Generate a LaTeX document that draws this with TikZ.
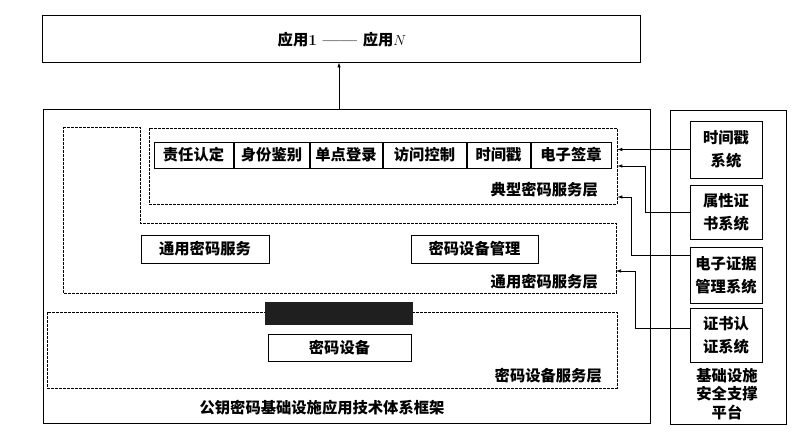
\documentclass[tikz,border=0pt]{standalone}
\usepackage{fontspec}
\newfontfamily\cjk{Noto Sans CJK SC}
\usetikzlibrary{arrows.meta}
\begin{document}
\begin{tikzpicture}[x=1pt,y=-1pt,
  font=\cjk\bfseries\fontsize{15.3}{18}\selectfont,
  box/.style={draw, line width=0.8pt, inner sep=0pt},
  solidbox/.style={draw, line width=0.9pt},
  layer/.style={draw, line width=0.6pt, dash pattern=on 3pt off 1pt},
  svc/.style={draw, line width=0.8pt, inner sep=0pt, minimum height=26pt},
  sysbox/.style={draw, line width=0.8pt, inner sep=0pt, minimum width=72pt, align=center, font=\cjk\bfseries\fontsize{15.3}{23}\selectfont},
  lbl/.style={inner sep=0pt},
  arr/.style={line width=0.7pt, -{Latex[length=5pt,width=3.5pt]}},
  link/.style={line width=0.7pt}]
\useasboundingbox (0,0) rectangle (803,444);
\fill[white] (0,0) rectangle (803,444);

% top box
\node[solidbox, minimum width=598pt, minimum height=47pt, inner sep=0pt] (apps) at (341,38.5) {};
\node[lbl] (appstxt) at (342,40) {{\cjk\bfseries 应用}\textrm{\bfseries 1 —— }{\cjk\bfseries 应用}$N$};

% main frame
\node[solidbox, minimum width=607pt, minimum height=314pt, inner sep=0pt] (main) at (346.5,266) {};
\node[lbl] (maintxt) at (322,408) {公钥密码基础设施应用技术体系框架};

% arrow up
\draw[arr] (main.north -| 339,0) -- (apps.south -| 339,0);

% general layer (notched outline)
\draw[layer] (63,127) -- (140,127) -- (140,223) -- (616,223) -- (616,293) -- (63,293) -- cycle;
\coordinate (genE) at (616,271);

% typical layer
\node[layer, minimum width=468pt, minimum height=76pt, inner sep=0pt] (typ) at (383,166) {};
\node[lbl, anchor=east] (typtxt) at (598,190) {典型密码服务层};

% service boxes
\node[svc, minimum width=79pt] (s1) at (193.5,155) {责任认定};
\node[svc, minimum width=75pt] (s2) at (271.5,155) {身份鉴别};
\node[svc, minimum width=72pt] (s3) at (346,155) {单点登录};
\node[svc, minimum width=83pt] (s4) at (424.5,155) {访问控制};
\node[svc, minimum width=63pt] (s5) at (498.5,155) {时间戳};
\node[svc, minimum width=80pt] (s6) at (571,155) {电子签章};

% general services
\node[box, minimum width=128pt, minimum height=28pt] (gen1) at (205,249) {通用密码服务};
\node[box, minimum width=127pt, minimum height=28pt] (gen2) at (474.5,249) {密码设备管理};
\node[lbl, anchor=east] (gentxt) at (598,282) {通用密码服务层};

% device layer
\node[layer, minimum width=570pt, minimum height=76pt, inner sep=0pt] (dev) at (332,350) {};
\node[fill=black!88, minimum width=148pt, minimum height=23pt, inner sep=0pt] (bar) at (339,313.5) {};
\node[box, minimum width=143pt, minimum height=27pt] (devbox) at (339.5,347.5) {密码设备};
\node[lbl, anchor=east] (devtxt) at (602,376) {密码设备服务层};

% platform
\node[solidbox, minimum width=116pt, minimum height=314pt, inner sep=0pt] (plat) at (728,267) {};
\node[sysbox, minimum height=57pt] (sys1) at (726,149.5) {时间戳\\系统};
\node[sysbox, minimum height=54pt] (sys2) at (726,212) {属性证\\书系统};
\node[sysbox, minimum height=56pt] (sys3) at (726,275) {电子证据\\管理系统};
\node[sysbox, minimum height=54pt] (sys4) at (726,335) {证书认\\证系统};
\node[lbl, align=center, font=\cjk\bfseries\fontsize{15.3}{18.5}\selectfont] (plattxt) at (727,394) {基础设施\\安全支撑\\平台};

% connectors
\draw[arr] (sys1.west) -- (sys1.west -| typ.east);
\draw[arr] (sys2.west) -| (645,166) -- (typ.east |- 0,166);
\draw[arr] ([yshift=20pt]sys3.west) -| (631,197) -- (typ.east |- 0,197);
\draw[arr] ([yshift=7pt]sys4.west) -| (635,271) -- (genE);
\end{tikzpicture}
\end{document}
